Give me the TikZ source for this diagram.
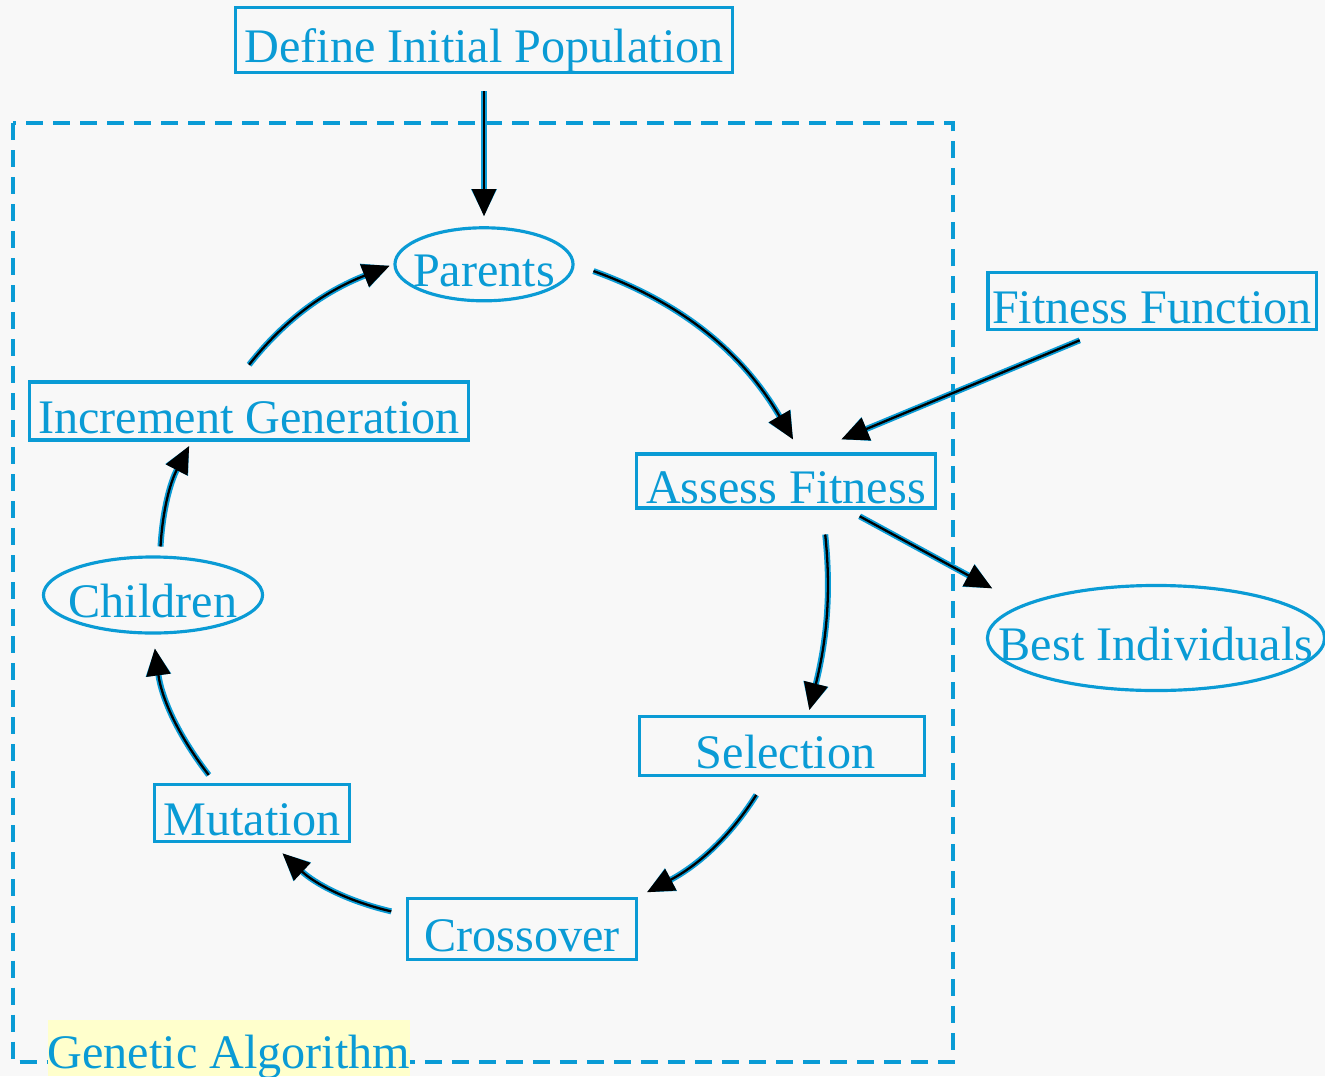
\documentclass[tikz,border=0pt]{standalone}
\usepackage{fontspec}
\setmainfont{Liberation Serif}
\usetikzlibrary{arrows.meta,positioning,shapes.geometric}
\definecolor{gaBlue}{HTML}{0A9BD5}
\definecolor{paper}{HTML}{F8F8F8}
\definecolor{hilite}{HTML}{FFFFCC}

\begin{document}
\begin{tikzpicture}[x=0.01cm,y=-0.01cm,>={Triangle[length=0.27cm,width=0.24cm]},
  stage/.style={draw=gaBlue,line width=0.9pt,text=gaBlue,inner sep=0pt,text height=0.44cm,text depth=0pt,font=\fontsize{13.7}{16}\selectfont},
  pool/.style={stage,ellipse},
  flow/.style={->,black,line width=0.65pt,preaction={draw=gaBlue,line width=1.7pt}},
  frame/.style={draw=gaBlue,line width=0.9pt,dash pattern=on 0.17cm off 0.1cm}]
\useasboundingbox (0,0) rectangle (1325,1076);
\fill[paper] (0,0) rectangle (1325,1076);

% outer loop box
\draw[frame] (13,123) rectangle (953,1062);
\node[fill=hilite,text=gaBlue,font=\fontsize{13.7}{16}\selectfont,inner xsep=0pt,inner ysep=0pt,
  minimum width=3.6cm,text height=0.48cm,text depth=0.08cm,anchor=base west] (galabel) at (47,1068) {Genetic Algorithm};

\node[stage,minimum width=4.96cm,minimum height=0.65cm] (define) at (484,40) {Define Initial Population};
\node[pool,minimum width=1.78cm,minimum height=0.73cm,below=1.52cm of define] (parents) {\makebox[0pt]{Parents}};
\node[stage,minimum width=3.28cm,minimum height=0.57cm] (fitness) at (1152,301) {Fitness Function};
\node[stage,minimum width=4.38cm,minimum height=0.58cm] (increment) at (249,411) {Increment Generation};
\node[stage,minimum width=2.99cm,minimum height=0.54cm] (assess) at (786,481) {Assess Fitness};
\node[pool,minimum width=2.19cm,minimum height=0.76cm] (children) at (153,595) {\makebox[0pt]{Children}};
\node[pool,minimum width=3.37cm,minimum height=1.05cm] (best) at (1156,638) {\makebox[0pt]{Best Individuals}};
\node[stage,minimum width=2.85cm,minimum height=0.59cm] (selection) at (782,746) {\hspace{0.07cm}Selection};
\node[stage,minimum width=1.95cm,minimum height=0.57cm] (mutation) at (252,813) {Mutation};
\node[stage,minimum width=2.29cm,minimum height=0.61cm] (crossover) at (522,929) {Crossover};

% connectors
\draw[flow,shorten <=0.17cm,shorten >=0.1cm] (define) -- (parents);
\draw[flow,shorten <=0.2cm,shorten >=0.15cm] (parents.east) to[bend left=20] (assess.63);
\draw[flow,shorten <=0.24cm,shorten >=0.34cm] (fitness.211) -- (assess.50);
\draw[flow,shorten <=0.14cm,shorten >=0.34cm] (assess.335) -- (best.166);
\draw[flow,shorten <=0.25cm,shorten >=0.05cm] (assess.322) to[bend left=10] (selection.50);
\draw[flow,shorten <=0.21cm,shorten >=0.1cm] (selection.245) to[bend left=15] (crossover.north east);
\draw[flow,shorten <=0.15cm,shorten >=0.15cm] (crossover.173) to[bend left=15] (mutation.303);
\draw[flow,shorten <=0.1cm,shorten >=0.14cm] (mutation.141) to[bend left=15] (children.south);
\draw[flow,shorten <=0.09cm,shorten >=0.05cm] (children.80) to[bend left=12] (increment.208);
\draw[flow,shorten <=0.2cm,shorten >=0.04cm] (increment.112) to[bend left=15] (parents.west);
\end{tikzpicture}
\end{document}
